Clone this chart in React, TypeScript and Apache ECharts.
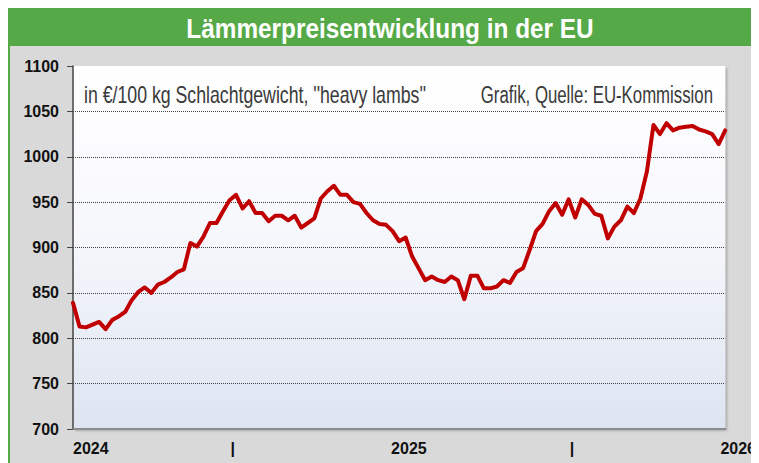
import React, { useEffect, useRef } from "react";
import * as echarts from "echarts";

const chartTitle = "Lämmerpreisentwicklung in der EU";
const unitNote = "in €/100 kg Schlachtgewicht, ''heavy lambs''";
const sourceNote = "Grafik, Quelle: EU-Kommission";

// weekly prices, €/100 kg, from week 1 of 2024 onwards
const prices = [
  839, 813, 812, 815, 818, 810, 820, 824, 829, 842,
  851, 856, 850, 859, 862, 867, 873, 876, 905, 901,
  912, 927, 927, 940, 952, 958, 943, 951, 938, 938,
  929, 935, 935, 930, 935, 922, 927, 932, 954, 962,
  968, 958, 958, 950, 948, 938, 930, 926, 925, 918,
  907, 911, 890, 877, 864, 868, 864, 862, 868, 864,
  843, 869, 869, 855, 855, 857, 864, 861, 873, 877,
  897, 918, 926, 940, 949, 936, 953, 933, 953, 947,
  937, 935, 910, 923, 930, 945, 938, 954, 984, 1035,
  1025, 1037, 1029, 1032, 1033, 1034, 1030, 1028, 1025, 1014,
  1029,
];

const yMin = 700;
const yMax = 1100;
const yStep = 50;

const xTickLabels = ["2024", "|", "2025", "|", "2026"];
const xTickWeeks = [0, 24.5, 51.5, 76.5, 100];

const GREEN = "#56a947";
const RED = "#c00000";
const SANS = "'Liberation Sans', Arial, sans-serif";

export default function App() {
  const ref = useRef<HTMLDivElement>(null);

  useEffect(() => {
    if (!ref.current) return;
    const chart = echarts.init(ref.current, undefined, { renderer: "svg" });
    const seriesData = prices.map((v, i) => [i, v]);

    chart.setOption({
      animation: false,
      backgroundColor: "#d9d9d9",
      grid: {
        left: 65,
        top: 58,
        right: 28,
        bottom: 34,
        show: true,
        borderWidth: 0,
        backgroundColor: new echarts.graphic.LinearGradient(0, 0, 0, 1, [
          { offset: 0, color: "#ffffff" },
          { offset: 0.45, color: "#f7f8fc" },
          { offset: 1, color: "#dde4f1" },
        ]),
        shadowColor: "rgba(0,0,0,0.22)",
        shadowBlur: 2,
        shadowOffsetX: 2,
        shadowOffsetY: 2,
      },
      xAxis: {
        type: "value",
        min: 0,
        max: prices.length - 1,
        axisLine: { show: true, lineStyle: { color: "#8c8c8c", width: 2 } },
        axisTick: { show: false },
        splitLine: { show: false },
        axisLabel: {
          customValues: xTickWeeks,
          margin: 11,
          color: "#111",
          fontFamily: SANS,
          fontWeight: "bold",
          fontSize: 16,
          alignMinLabel: "left",
          formatter: (val: number) => {
            const k = xTickWeeks.indexOf(val);
            const t = k >= 0 ? xTickLabels[k] : "";
            return k === xTickLabels.length - 1 ? "{r|" + t + "}" : t;
          },
          rich: {
            r: {
              padding: [0, 0, 0, 26],
              color: "#111",
              fontFamily: SANS,
              fontWeight: "bold",
              fontSize: 16,
            },
          },
        },
      },
      yAxis: {
        type: "value",
        min: yMin,
        max: yMax,
        interval: yStep,
        axisLine: { show: true, lineStyle: { color: "#444", width: 1.5 } },
        axisTick: { show: true, length: 6, lineStyle: { color: "#444", width: 1 } },
        axisLabel: {
          margin: 14,
          color: "#111",
          fontFamily: SANS,
          fontWeight: "bold",
          fontSize: 16,
          formatter: (v: number) => String(v),
        },
        splitLine: {
          show: true,
          showMinLine: false,
          showMaxLine: false,
          lineStyle: { type: "dotted", color: "#444", width: 1 },
        },
      },
      graphic: [
        {
          type: "rect",
          z: 100,
          shape: { x: 0, y: 0, width: 751, height: 38 },
          style: { fill: GREEN },
        },
        {
          type: "rect",
          z: 100,
          shape: { x: 0, y: 38, width: 2, height: 417 },
          style: { fill: GREEN },
        },
        {
          type: "text",
          z: 101,
          x: 382,
          y: 20,
          scaleX: 0.87,
          style: {
            text: chartTitle,
            fill: "#ffffff",
            font: "bold 28px " + SANS,
            textAlign: "center",
            textVerticalAlign: "middle",
          },
        },
        {
          type: "text",
          z: 101,
          x: 76,
          y: 87,
          scaleX: 0.77,
          style: {
            text: unitNote,
            fill: "#3a3a3a",
            font: "23px " + SANS,
            textAlign: "left",
            textVerticalAlign: "middle",
          },
        },
        {
          type: "text",
          z: 101,
          x: 705,
          y: 87,
          scaleX: 0.73,
          style: {
            text: sourceNote,
            fill: "#3a3a3a",
            font: "23px " + SANS,
            textAlign: "right",
            textVerticalAlign: "middle",
          },
        },
      ],
      series: [
        {
          type: "line",
          data: seriesData,
          showSymbol: false,
          symbol: "none",
          lineStyle: { color: RED, width: 4, join: "round", cap: "round" },
          z: 5,
        },
      ],
    });

    return () => chart.dispose();
  }, []);

  return <div ref={ref} style={{ width: 751, height: 455 }} />;
}
